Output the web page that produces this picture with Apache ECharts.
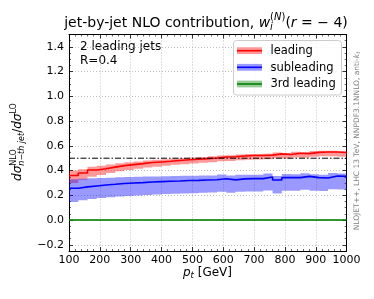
<!DOCTYPE html>
<html><head><meta charset="utf-8">
<script src="https://cdn.jsdelivr.net/npm/echarts@6/dist/echarts.min.js"></script>
<style>html,body{margin:0;padding:0;background:#fff}#c{width:374px;height:299px}</style>
</head><body><div id="c"></div>
<script>
// ---------- data ----------
const binEdges = [100,130,160,190,220,250,280,310,340,370,400,430,460,490,520,550,580,610,640,670,700,730,760,790,820,850,880,910,940,970,1000];
const leadingVal = [0.360,0.380,0.405,0.415,0.428,0.440,0.448,0.456,0.465,0.470,0.475,0.482,0.487,0.492,0.497,0.502,0.510,0.512,0.518,0.522,0.522,0.525,0.535,0.530,0.540,0.537,0.547,0.550,0.550,0.546];
const leadingLo  = [0.300,0.325,0.350,0.365,0.380,0.395,0.405,0.415,0.425,0.432,0.440,0.447,0.452,0.458,0.463,0.468,0.475,0.478,0.483,0.488,0.489,0.492,0.500,0.497,0.505,0.503,0.512,0.515,0.515,0.512];
const leadingHi  = [0.400,0.410,0.430,0.440,0.450,0.460,0.467,0.474,0.482,0.487,0.491,0.497,0.501,0.506,0.510,0.515,0.522,0.524,0.530,0.534,0.534,0.537,0.547,0.542,0.552,0.549,0.558,0.561,0.561,0.557];
const subVal = [0.257,0.268,0.276,0.284,0.289,0.295,0.300,0.303,0.308,0.311,0.314,0.316,0.320,0.321,0.324,0.326,0.334,0.325,0.333,0.335,0.335,0.348,0.324,0.343,0.343,0.353,0.343,0.340,0.356,0.353];
const subLo  = [0.147,0.160,0.170,0.178,0.184,0.190,0.195,0.199,0.203,0.207,0.210,0.212,0.215,0.217,0.220,0.222,0.228,0.220,0.228,0.230,0.230,0.240,0.215,0.236,0.236,0.245,0.237,0.235,0.250,0.248];
const subHi  = [0.330,0.335,0.338,0.341,0.343,0.346,0.348,0.350,0.352,0.353,0.355,0.356,0.358,0.358,0.360,0.361,0.368,0.360,0.366,0.366,0.366,0.376,0.356,0.372,0.371,0.378,0.370,0.366,0.380,0.377];
const thirdVal = [0,0,0,0,0,0,0,0,0,0,0,0,0,0,0,0,0,0,0,0,0,0,0,0,0,0,0,0,0,0];
const thirdLo  = [-0.004,-0.004,-0.004,-0.004,-0.004,-0.004,-0.004,-0.004,-0.004,-0.004,-0.004,-0.004,-0.004,-0.004,-0.004,-0.004,-0.004,-0.004,-0.004,-0.004,-0.004,-0.004,-0.004,-0.004,-0.004,-0.004,-0.004,-0.004,-0.004,-0.004];
const thirdHi  = [0.004,0.004,0.004,0.004,0.004,0.004,0.004,0.004,0.004,0.004,0.004,0.004,0.004,0.004,0.004,0.004,0.004,0.004,0.004,0.004,0.004,0.004,0.004,0.004,0.004,0.004,0.004,0.004,0.004,0.004];
const refLevel = 0.5;
const seriesNames = ['leading','subleading','3rd leading'];

// ---------- helpers ----------
const FF = '"DejaVu Sans"';
const mctx = document.createElement('canvas').getContext('2d');
function fontStr(p){ return (p.italic?'italic ':'') + p.size + 'px ' + FF; }
function tw(p){ mctx.font = fontStr(p); return mctx.measureText(p.t).width; }
function layoutRow(parts, x0, out, fill){
  let x = x0;
  parts.forEach(p=>{
    if (p.stack){
      let w = 0;
      p.stack.forEach(row=>{ w = Math.max(w, layoutRow(row, x, out, fill) - x); });
      x += w;
    } else {
      out.push({type:'text', x:x, y:(p.dy||0), silent:true,
        style:{text:p.t, font:fontStr(p), fill:p.fill||fill, align:'left', verticalAlign:'middle'}});
      x += tw(p);
    }
  });
  return x;
}
function mathGroup(parts, cx, cy, fill, rotation){
  const kids = [];
  const w = layoutRow(parts, 0, kids, fill);
  kids.forEach(k=>{ k.x -= w/2; });
  return {type:'group', x:cx, y:cy, rotation:rotation||0, children:kids, silent:true};
}
function stepData(vals){ return binEdges.map((e,i)=>[e, vals[Math.min(i, vals.length-1)]]); }
function bandSeries(lo, hi, color){
  return {type:'custom', coordinateSystem:'cartesian2d', data:[[binEdges[0], lo[0]]], silent:true, z:2, clip:true,
    renderItem:(params, api)=>{
      const pts = [];
      for (let i=0;i<lo.length;i++){ pts.push(api.coord([binEdges[i], hi[i]])); pts.push(api.coord([binEdges[i+1], hi[i]])); }
      for (let i=lo.length-1;i>=0;i--){ pts.push(api.coord([binEdges[i+1], lo[i]])); pts.push(api.coord([binEdges[i], lo[i]])); }
      return {type:'polygon', shape:{points:pts}, style:{fill:color}};
    }};
}
function lineSeries(name, vals, color){
  return {name:name, type:'line', step:'end', data:stepData(vals), showSymbol:false, silent:true, z:3,
    lineStyle:{color:color, width:1.6}, itemStyle:{color:color}};
}

const RED='#ff0000', BLUE='#0000ff', GREEN='#008000';
const RED_B='rgba(255,0,0,0.4)', BLUE_B='rgba(0,0,255,0.4)', GREEN_B='rgba(0,128,0,0.4)';

const axisCommon = {
  axisLine:{show:true, onZero:false, lineStyle:{color:'#000', width:1}},
  axisTick:{show:true, inside:true, length:4, lineStyle:{color:'#000', width:0.8}},
};
const gridLine = {show:true, lineStyle:{color:'#b0b0b0', width:0.8, type:[1,2]}};
const labelStyle = {color:'#000', fontSize:11, fontFamily:'DejaVu Sans'};
const xMinor = {show:true, splitNumber:5, length:2, lineStyle:{color:'#000', width:0.6}};
const yMinor = {show:true, splitNumber:4, length:2, lineStyle:{color:'#000', width:0.6}};

const chart = echarts.init(document.getElementById('c'), null, {renderer:'canvas'});
const option = {
  animation:false,
  backgroundColor:'#fff',
  grid:{left:69, right:27.4, top:34.5, bottom:48},
  xAxis:[
    Object.assign({type:'value', min:100, max:1000, interval:100, position:'bottom',
      axisLabel:Object.assign({margin:4, formatter:v=>String(v)}, labelStyle), splitLine:gridLine, minorTick:xMinor}, axisCommon),
    Object.assign({type:'value', min:100, max:1000, interval:100, position:'top',
      axisLabel:{show:false}, splitLine:{show:false}, minorTick:xMinor}, axisCommon)
  ],
  yAxis:[
    Object.assign({type:'value', min:-0.25, max:1.5, splitNumber:8, position:'left',
      axisLabel:Object.assign({margin:5, showMinLabel:false, showMaxLabel:false,
        formatter:v=>{ const s=Math.abs(v).toFixed(1); return (v< -1e-9?'\u2212':'')+s; }}, labelStyle),
      splitLine:gridLine, minorTick:yMinor}, axisCommon),
    Object.assign({type:'value', min:-0.25, max:1.5, splitNumber:8, position:'right',
      axisLabel:{show:false}, splitLine:{show:false}, minorTick:yMinor}, axisCommon)
  ],
  series:[
    bandSeries(leadingLo, leadingHi, RED_B),
    bandSeries(subLo, subHi, BLUE_B),
    bandSeries(thirdLo, thirdHi, GREEN_B),
    {type:'line', data:[[binEdges[0], refLevel],[binEdges[binEdges.length-1], refLevel]], showSymbol:false, silent:true, z:4,
      lineStyle:{color:'#000', width:1, type:[6,2,1.5,2]}},
    lineSeries(seriesNames[0], leadingVal, RED),
    lineSeries(seriesNames[1], subVal, BLUE),
    lineSeries(seriesNames[2], thirdVal, GREEN)
  ],
  graphic:[]
};

const g = [];
// title
g.push(mathGroup([
  {t:'jet-by-jet NLO contribution, ', size:14},
  {t:'w', size:14, italic:true},
  {stack:[
    [{t:'(', size:10, dy:-5.5},{t:'N', size:10, italic:true, dy:-5.5},{t:')', size:10, dy:-5.5}],
    [{t:'i', size:10, italic:true, dy:4}]
  ]},
  {t:'(', size:14},{t:'r', size:14, italic:true},{t:' = \u2212 4)', size:14}
], 206, 23, '#000'));
// inner text
g.push({type:'text', x:80, y:47.3, silent:true, style:{text:'2 leading jets', font:'12px '+FF, fill:'#000', align:'left', verticalAlign:'middle'}});
g.push({type:'text', x:80, y:60.7, silent:true, style:{text:'R=0.4', font:'12px '+FF, fill:'#000', align:'left', verticalAlign:'middle'}});
// y label
g.push(mathGroup([
  {t:'d\u03c3', size:12, italic:true},
  {stack:[
    [{t:'NLO', size:8, dy:-4.5}],
    [{t:'n\u2212th jet', size:8, italic:true, dy:3.5}]
  ]},
  {t:'/', size:12},{t:'d\u03c3', size:12, italic:true},
  {stack:[[{t:'LO', size:8, dy:-4.5}]]}
], 18, 142, '#000', Math.PI/2));
// x label
g.push(mathGroup([
  {t:'p', size:12, italic:true},
  {t:'t', size:8.5, italic:true, dy:3},
  {t:' [GeV]', size:12}
], 207.5, 273, '#000'));
// right annotation
g.push(mathGroup([
  {t:'NLOJET++, LHC 13 TeV, NNPDF3.1NNLO, anti-', size:7.5},
  {t:'k', size:7.5, italic:true},
  {t:'t', size:5.5, italic:true, dy:1.8}
], 357, 141, '#808080', Math.PI/2));
// legend
g.push({type:'rect', shape:{x:233.5, y:40.5, width:108, height:54.5, r:3}, silent:true,
  style:{fill:'rgba(255,255,255,0.8)', stroke:'#cccccc', lineWidth:1}, z:100});
const legRows = [50.7, 67.3, 84];
const legLine = [RED, BLUE, GREEN], legBand = [RED_B, BLUE_B, GREEN_B];
seriesNames.forEach((n,i)=>{
  g.push({type:'rect', shape:{x:237, y:legRows[i]-3.4, width:25, height:6.8}, silent:true, style:{fill:legBand[i]}, z:101});
  g.push({type:'line', shape:{x1:237, y1:legRows[i], x2:262, y2:legRows[i]}, silent:true, style:{stroke:legLine[i], lineWidth:1.6}, z:102});
  g.push({type:'text', x:270.5, y:legRows[i]+0.3, silent:true, z:102,
    style:{text:n, font:'11.5px '+FF, fill:'#000', align:'left', verticalAlign:'middle'}});
});
option.graphic = g;
chart.setOption(option);
</script></body></html>
